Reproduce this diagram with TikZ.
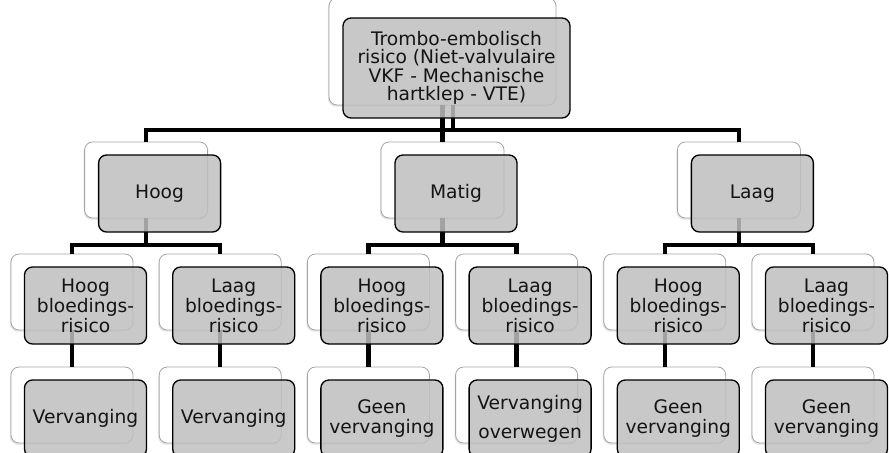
\documentclass[tikz,border=0pt]{standalone}
\usepackage{fontspec}
\setmainfont{DejaVu Sans}
\usetikzlibrary{shadows}
\definecolor{frontgray}{RGB}{190,191,190}
\definecolor{backedge}{RGB}{165,165,165}
\begin{document}
\begin{tikzpicture}[x=0.75pt,y=-0.75pt,
  backbox/.style={draw=backedge, line width=0.6pt, fill=white, rounded corners=6pt,
    minimum width=91.5pt, minimum height=57pt, inner sep=0pt,
    drop shadow={shadow xshift=-0.8pt, shadow yshift=-1.3pt, opacity=0.22}},
  frontbox/.style={draw=black, line width=1pt, fill=frontgray, fill opacity=0.85,
    text opacity=1, rounded corners=6pt, minimum width=91.5pt, minimum height=57.75pt,
    inner sep=0pt, align=center, text=black!92,
    font=\fontsize{14}{15}\selectfont},
  conn/.style={line width=3.2pt, draw=black}
]
\useasboundingbox (0,0) rectangle (889,453);
\clip (0,0) rectangle (889,453);

% ---------- back boxes ----------
\node[backbox, minimum width=170.25pt, minimum height=80.25pt] (b0) at (442.5,51.5) {};
\node[backbox, minimum width=92.25pt] (b1a) at (146.1,180) {};
\node[backbox, minimum width=92.25pt] (b1b) at (442.5,180) {};
\node[backbox, minimum width=92.25pt] (b1c) at (738.9,180) {};
\foreach \i/\x in {1/72,2/220.2,3/368.4,4/516.6,5/664.8,6/813}{
  \node[backbox] (b2\i) at (\x,292) {};
  \node[backbox] (b3\i) at (\x,405) {};
}

% ---------- connectors ----------
\coordinate (bar0) at (0,130);
\coordinate (bar1) at (0,245);
\coordinate (stub) at (453,130);
\draw[conn] (b0.south) -- (b0.south |- bar0) -| (b1a.north);
\draw[conn] (b0.south |- bar0) -| (b1c.north);
\draw[conn] (b0.south) -- (b1b.north);
\draw[conn] (b0.south -| stub) -- (stub);

\draw[conn] (b1a.south) -- (b1a.south |- bar1) -| (b21.north);
\draw[conn] (b1a.south |- bar1) -| (b22.north);
\draw[conn] (b1b.south) -- (b1b.south |- bar1) -| (b23.north);
\draw[conn] (b1b.south |- bar1) -| (b24.north);
\draw[conn] (b1c.south) -- (b1c.south |- bar1) -| (b25.north);
\draw[conn] (b1c.south |- bar1) -| (b26.north);
\foreach \i in {1,...,6}{
  \draw[conn] (b2\i.south) -- (b3\i.north);
}

% ---------- front boxes ----------
\node[frontbox, minimum width=170.25pt, minimum height=75pt,
      font=\fontsize{14}{13.9}\selectfont] (f0) at (456.5,68)
  {Trombo-embolisch\\risico (Niet-valvulaire\\VKF - Mechanische\\hartklep - VTE)};

\node[frontbox] (f1a) at (159.6,193.5) {Hoog};
\node[frontbox] (f1b) at (456,193.5) {Matig};
\node[frontbox] (f1c) at (752.4,193.5) {Laag};

\node[frontbox] (f21) at (85.5,305.5) {Hoog\\bloedings-\\risico};
\node[frontbox] (f22) at (233.7,305.5) {Laag\\bloedings-\\risico};
\node[frontbox] (f23) at (381.9,305.5) {Hoog\\bloedings-\\risico};
\node[frontbox] (f24) at (530.1,305.5) {Laag\\bloedings-\\risico};
\node[frontbox] (f25) at (678.3,305.5) {Hoog\\bloedings-\\risico};
\node[frontbox] (f26) at (826.5,305.5) {Laag\\bloedings-\\risico};

\node[frontbox] (f31) at (85.5,418.5) {Vervanging};
\node[frontbox] (f32) at (233.7,418.5) {Vervanging};
\node[frontbox] (f33) at (381.9,418.5) {Geen\\vervanging};
\node[frontbox, font=\fontsize{14}{21.75}\selectfont] (f34) at (530.1,418.5) {Vervanging\\overwegen};
\node[frontbox] (f35) at (678.3,418.5) {Geen\\vervanging};
\node[frontbox] (f36) at (826.5,418.5) {Geen\\vervanging};
\end{tikzpicture}
\end{document}
